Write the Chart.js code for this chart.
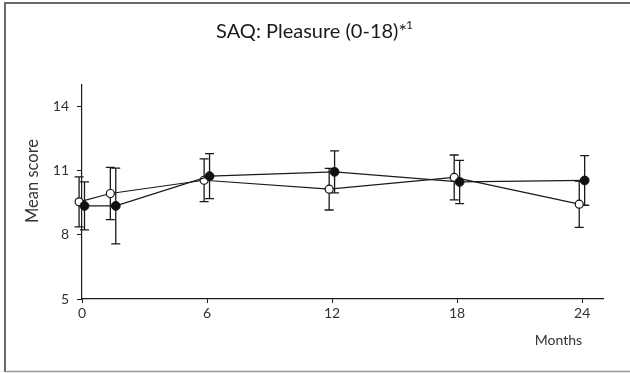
<!DOCTYPE html>
<html>
<head>
<meta charset="utf-8">
<script src="https://cdn.jsdelivr.net/npm/chart.js@4/dist/chart.umd.min.js"></script>
<style>
  body { margin: 0; background: #fff; }
  #wrap { width: 630px; height: 373px; }
</style>
</head>
<body>
<div id="wrap"><canvas id="saq" width="630" height="373"></canvas></div>
<script>
// follow-up visits (months) and axis ticks
var months = [0, 1.5, 6, 12, 18, 24];
var xTicks = [0, 6, 12, 18, 24];
var yTicks = [5, 8, 11, 14];

// open circles: mean and error
var openMean = [9.54, 9.93, 10.55, 10.13, 10.68, 9.43];
var openErr = [1.17, 1.22, 1.0, 0.97, 1.05, 1.08];

// filled circles: mean and error
var filledMean = [9.35, 9.35, 10.74, 10.94, 10.47, 10.54];
var filledErr = [1.12, 1.77, 1.05, 0.98, 1.01, 1.16];

var FONT = 'Lato, "Noto Sans", sans-serif';
var INK = '#1a1a1a';

function points(means, shift) {
  return means.map(function(m, i) {
    return { x: months[i] + shift, y: m };
  });
}

// vertical error bars with caps, drawn under the markers
var errorBars = {
  id: 'errorBars',
  beforeDatasetsDraw: function(chart) {
    var ctx = chart.ctx;
    var ys = chart.scales.y;
    ctx.save();
    ctx.strokeStyle = INK;
    ctx.lineWidth = 1.3;
    chart.data.datasets.forEach(function(ds, i) {
      var meta = chart.getDatasetMeta(i);
      meta.data.forEach(function(pt, j) {
        var top = ys.getPixelForValue(ds.data[j].y + ds.errors[j]);
        var bot = ys.getPixelForValue(ds.data[j].y - ds.errors[j]);
        var x = pt.x;
        ctx.beginPath();
        ctx.moveTo(x, top);
        ctx.lineTo(x, bot);
        ctx.moveTo(x - 4.5, top);
        ctx.lineTo(x + 4.5, top);
        ctx.moveTo(x - 4.5, bot);
        ctx.lineTo(x + 4.5, bot);
        ctx.stroke();
      });
    });
    ctx.restore();
  }
};

// frame, title and axis names
var decorations = {
  id: 'decorations',
  beforeDraw: function(chart) {
    var ctx = chart.ctx;
    ctx.save();
    ctx.fillStyle = '#fff';
    ctx.fillRect(0, 0, chart.width, chart.height);
    ctx.strokeStyle = '#6a6a6a';
    ctx.lineWidth = 2;
    ctx.beginPath();
    ctx.moveTo(5, 372);
    ctx.lineTo(5, 3);
    ctx.lineTo(630, 3);
    ctx.stroke();
    ctx.strokeStyle = '#999';
    ctx.lineWidth = 1.5;
    ctx.beginPath();
    ctx.moveTo(5, 371.5);
    ctx.lineTo(630, 371.5);
    ctx.stroke();
    ctx.restore();
  },
  afterDraw: function(chart) {
    var ctx = chart.ctx;
    var xs = chart.scales.x;
    ctx.save();
    ctx.fillStyle = INK;

    // title with superscript note
    var main = 'SAQ: Pleasure (0-18)*';
    var sup = '1';
    ctx.font = '20px ' + FONT;
    var wMain = ctx.measureText(main).width;
    ctx.font = '12px ' + FONT;
    var wSup = ctx.measureText(sup).width;
    var x0 = 315 - (wMain + wSup) / 2;
    ctx.textBaseline = 'alphabetic';
    ctx.textAlign = 'left';
    ctx.font = '20px ' + FONT;
    ctx.fillText(main, x0, 38);
    ctx.font = '12px ' + FONT;
    ctx.fillText(sup, x0 + wMain - 1, 29);

    ctx.fillStyle = '#333';
    ctx.font = '14px ' + FONT;
    ctx.textAlign = 'right';
    ctx.textBaseline = 'middle';
    ctx.fillText('Months', xs.getPixelForValue(24), 340);

    ctx.font = '16.5px ' + FONT;
    ctx.translate(33, 181);
    ctx.rotate(-Math.PI / 2);
    ctx.textAlign = 'center';
    ctx.fillText('Mean score', 0, 0);
    ctx.restore();
  }
};

new Chart(document.getElementById('saq'), {
  type: 'line',
  data: {
    datasets: [
      {
        label: 'filled',
        data: points(filledMean, 0.12),
        errors: filledErr,
        borderColor: INK,
        borderWidth: 1.2,
        pointRadius: 4.4,
        pointBackgroundColor: '#111',
        pointBorderColor: '#111',
        pointBorderWidth: 1,
        clip: false
      },
      {
        label: 'open',
        data: points(openMean, -0.14),
        errors: openErr,
        borderColor: INK,
        borderWidth: 1.2,
        pointRadius: 4,
        pointBackgroundColor: '#fff',
        pointBorderColor: '#111',
        pointBorderWidth: 1.2,
        clip: false
      }
    ]
  },
  options: {
    responsive: false,
    animation: false,
    events: [],
    layout: { padding: { top: 85, right: 27, bottom: 0, left: 0 } },
    plugins: {
      legend: { display: false },
      tooltip: { enabled: false },
      title: { display: false }
    },
    scales: {
      x: {
        type: 'linear',
        min: 0,
        max: 25,
        afterBuildTicks: function(scale) {
          scale.ticks = xTicks.map(function(v) { return { value: v }; });
        },
        afterFit: function(scale) { scale.height = 74; },
        grid: { drawOnChartArea: false, drawTicks: true, tickLength: 4, color: INK },
        border: { display: true, color: INK, width: 1.2 },
        ticks: { color: '#333', font: { family: FONT, size: 14 }, padding: 2, maxRotation: 0 }
      },
      y: {
        min: 5,
        max: 15,
        afterBuildTicks: function(scale) {
          scale.ticks = yTicks.map(function(v) { return { value: v }; });
        },
        afterFit: function(scale) { scale.width = 82; },
        grid: { drawOnChartArea: false, drawTicks: true, tickLength: 5, color: INK },
        border: { display: true, color: INK, width: 1.2 },
        ticks: { color: '#333', font: { family: FONT, size: 14 }, padding: 8 }
      }
    }
  },
  plugins: [decorations, errorBars]
});
</script>
</body>
</html>
